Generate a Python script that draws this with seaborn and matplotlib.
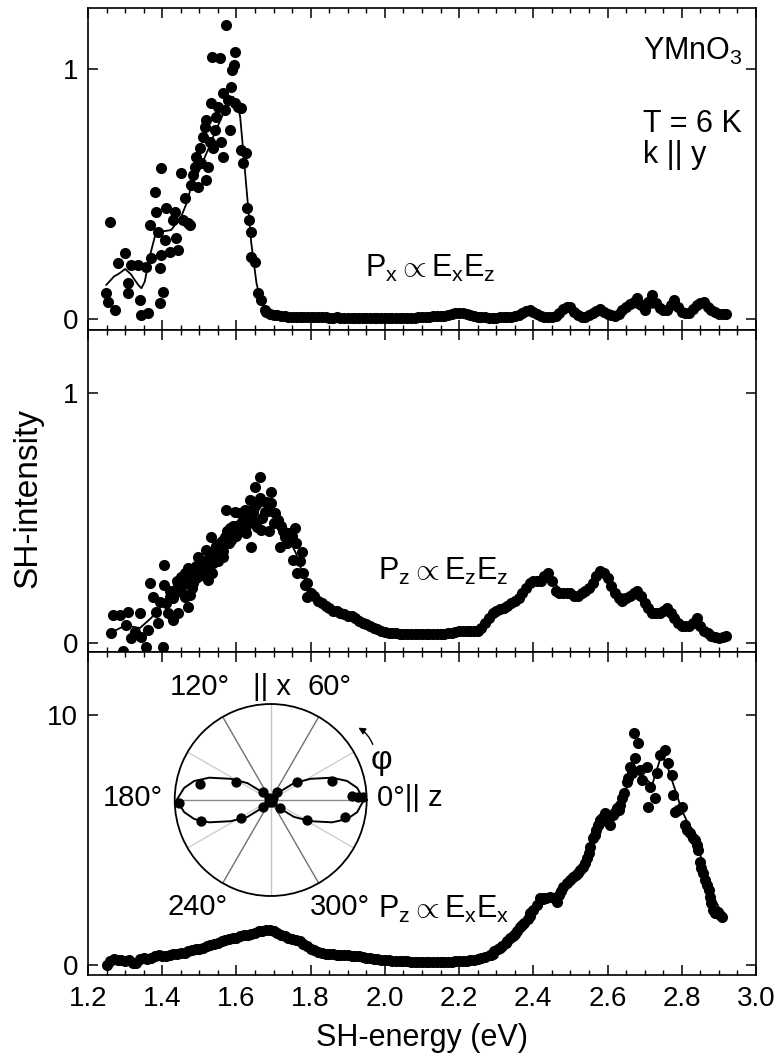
import numpy as np
import matplotlib
matplotlib.use("Agg")
import matplotlib.pyplot as plt
import seaborn as sns
from matplotlib.ticker import MultipleLocator, FixedLocator

# ---------------- data ----------------
# top panel: P_x ~ E_x E_z
top_e = [1.249, 1.254, 1.258, 1.272, 1.281, 1.299, 1.308, 1.308, 1.317, 1.335,
         1.339, 1.344, 1.357, 1.362, 1.366, 1.371, 1.380, 1.384, 1.389, 1.393,
         1.393, 1.398, 1.398, 1.402, 1.407, 1.411, 1.420, 1.429, 1.434, 1.438,
         1.443, 1.451, 1.456, 1.461, 1.469, 1.474, 1.478, 1.483, 1.487, 1.492,
         1.496, 1.501, 1.505, 1.510, 1.514, 1.519, 1.519, 1.523, 1.528, 1.532,
         1.534, 1.537, 1.541, 1.546, 1.550, 1.555, 1.559, 1.564, 1.564, 1.568,
         1.573, 1.577, 1.582, 1.586, 1.588, 1.593, 1.595, 1.595, 1.604, 1.613,
         1.613, 1.618, 1.627, 1.629, 1.633, 1.638, 1.640, 1.649, 1.658, 1.667,
         1.676]
top_i = [0.105, 0.069, 0.389, 0.036, 0.223, 0.263, 0.143, 0.103, 0.216, 0.216,
         0.076, 0.016, 0.209, 0.023, 0.376, 0.243, 0.509, 0.429, 0.349, 0.203,
         0.063, 0.603, 0.256, 0.109, 0.316, 0.443, 0.269, 0.396, 0.429, 0.323,
         0.276, 0.583, 0.396, 0.483, 0.383, 0.376, 0.536, 0.576, 0.609, 0.649,
         0.529, 0.683, 0.623, 0.729, 0.769, 0.796, 0.556, 0.609, 0.709, 0.863,
         1.049, 0.683, 0.756, 0.809, 0.849, 1.043, 0.709, 0.649, 0.903, 0.836,
         1.176, 0.876, 0.756, 0.929, 0.996, 1.016, 1.069, 0.863, 0.849, 0.843,
         0.676, 0.623, 0.663, 0.443, 0.396, 0.349, 0.249, 0.229, 0.103, 0.076,
         0.036]
top_tail_e = [1.68, 1.69, 1.70, 1.71, 1.72, 1.73, 1.74, 1.75, 1.76, 1.77,
              1.78, 1.79, 1.80, 1.81, 1.82, 1.83, 1.84, 1.85, 1.86, 1.87,
              1.88, 1.89, 1.90, 1.91, 1.92, 1.93, 1.94, 1.95, 1.96, 1.97,
              1.98, 1.99, 2.00, 2.01, 2.02, 2.03, 2.04, 2.05, 2.06, 2.07,
              2.08, 2.09, 2.10, 2.11, 2.12, 2.13, 2.14, 2.15, 2.16, 2.17,
              2.18, 2.19, 2.20, 2.21, 2.22, 2.23, 2.24, 2.25, 2.26, 2.27,
              2.28, 2.29, 2.30, 2.31, 2.32, 2.33, 2.34, 2.35, 2.36, 2.37,
              2.38, 2.39, 2.40, 2.41, 2.42, 2.43, 2.44, 2.45, 2.46, 2.47,
              2.48, 2.49, 2.50, 2.51, 2.52, 2.53, 2.54, 2.55, 2.56, 2.57,
              2.58, 2.59, 2.60, 2.61, 2.62, 2.63, 2.64, 2.65, 2.66, 2.67,
              2.68, 2.69, 2.70, 2.71, 2.72, 2.73, 2.74, 2.75, 2.76, 2.77,
              2.78, 2.79, 2.80, 2.81, 2.82, 2.83, 2.84, 2.85, 2.86, 2.87,
              2.88, 2.89, 2.90, 2.91, 2.92]
top_tail_i = [.030, .022, .018, .015, .012, .011, .010, .009, .008, .010,
              .009, .008, .008, .007, .007, .009, .008, .006, .006, .007,
              .006, .005, .005, .006, .005, .004, .004, .005, .004, .003,
              .004, .004, .004, .003, .004, .004, .005, .005, .005, .006,
              .006, .007, .008, .009, .010, .011, .012, .013, .014, .017,
              .020, .024, .026, .024, .020, .016, .012, .010, .008, .007,
              .006, .006, .006, .007, .008, .009, .010, .012, .016, .024,
              .032, .036, .030, .020, .014, .010, .008, .010, .014, .025,
              .040, .048, .050, .030, .016, .010, .010, .016, .024, .034,
              .040, .030, .022, .015, .012, .020, .035, .048, .060, .070,
              .085, .055, .035, .070, .095, .065, .045, .035, .035, .055,
              .075, .050, .030, .025, .025, .040, .055, .065, .070, .050,
              .035, .028, .022, .020, .020]
top_fit_e = [1.249, 1.270, 1.285, 1.300, 1.315, 1.326, 1.336, 1.344, 1.353, 1.366,
             1.380, 1.400, 1.424, 1.451, 1.469, 1.478, 1.496, 1.523, 1.541, 1.559,
             1.577, 1.591, 1.602, 1.610, 1.618, 1.629, 1.640, 1.654, 1.667, 1.685,
             1.72, 1.80, 1.90, 2.00, 2.10, 2.20, 2.26, 2.34, 2.40, 2.46,
             2.50, 2.54, 2.58, 2.62, 2.66, 2.70, 2.74, 2.78, 2.82, 2.86, 2.92]
top_fit_i = [0.136, 0.17, 0.183, 0.2, 0.18, 0.156, 0.135, 0.123, 0.15, 0.249,
             0.329, 0.35, 0.356, 0.409, 0.476, 0.536, 0.583, 0.676, 0.743, 0.803,
             0.863, 0.889, 0.86, 0.809, 0.676, 0.489, 0.303, 0.143, 0.063, 0.023,
             0.012, 0.008, 0.005, 0.004, 0.008, 0.022, 0.008, 0.01, 0.028, 0.012,
             0.04, 0.01, 0.035, 0.012, 0.05, 0.04, 0.05, 0.05, 0.025, 0.06, 0.02]

# middle panel: P_z ~ E_z E_z
mid_e = [1.263, 1.267, 1.285, 1.294, 1.303, 1.308, 1.317, 1.326, 1.339, 1.344,
         1.357, 1.362, 1.366, 1.375, 1.384, 1.389, 1.393, 1.402, 1.405, 1.405,
         1.416, 1.420, 1.429, 1.434, 1.443, 1.451, 1.461, 1.469, 1.474, 1.483,
         1.492, 1.496, 1.505, 1.514, 1.519, 1.523, 1.532, 1.537, 1.546, 1.555,
         1.564, 1.568, 1.573, 1.582, 1.586, 1.595, 1.604, 1.613, 1.622, 1.627,
         1.636, 1.640, 1.645, 1.649, 1.654, 1.663, 1.663, 1.667, 1.676, 1.680,
         1.689, 1.694, 1.694, 1.712, 1.717, 1.720, 1.730,
         1.44, 1.46, 1.48, 1.50, 1.51, 1.53, 1.54, 1.56, 1.57, 1.59,
         1.60, 1.62, 1.65, 1.47, 1.49, 1.744, 1.753, 1.758, 1.762, 1.776,
         1.785, 1.789]
mid_i = [0.039, 0.112, 0.112, -0.03, 0.072, 0.125, 0.019, 0.045, 0.119, 0.025,
         -0.015, 0.052, 0.239, 0.185, 0.125, 0.079, 0.165, -0.015, 0.232, 0.312,
         0.119, 0.185, 0.092, 0.199, 0.119, 0.265, 0.185, 0.145, 0.192, 0.239,
         0.299, 0.345, 0.279, 0.319, 0.372, 0.252, 0.425, 0.319, 0.359, 0.399,
         0.345, 0.425, 0.532, 0.459, 0.412, 0.525, 0.452, 0.479, 0.532, 0.439,
         0.572, 0.385, 0.525, 0.625, 0.465, 0.665, 0.579, 0.452, 0.525, 0.565,
         0.45, 0.605, 0.559, 0.492, 0.385, 0.47, 0.425,
         0.22, 0.24, 0.27, 0.30, 0.33, 0.34, 0.37, 0.38, 0.42, 0.44,
         0.47, 0.50, 0.55, 0.30, 0.26, 0.425, 0.332, 0.459, 0.279, 0.365,
         0.232, 0.185]
mid_band_e = [1.41, 1.42, 1.43, 1.44, 1.45, 1.46, 1.47, 1.48, 1.49, 1.50,
              1.51, 1.52, 1.525, 1.53, 1.535, 1.54, 1.545, 1.55, 1.56, 1.565,
              1.575, 1.58, 1.59, 1.60, 1.61, 1.625, 1.63, 1.645, 1.655, 1.67,
              1.685, 1.70, 1.705, 1.725, 1.735]
mid_band_i = [0.16, 0.21, 0.18, 0.25, 0.21, 0.28, 0.24, 0.22, 0.31, 0.27,
              0.29, 0.33, 0.30, 0.36, 0.28, 0.34, 0.39, 0.33, 0.41, 0.37,
              0.45, 0.40, 0.47, 0.43, 0.52, 0.47, 0.53, 0.49, 0.56, 0.50,
              0.53, 0.48, 0.52, 0.45, 0.40]
mid_tail_e = [1.74, 1.75, 1.76, 1.77, 1.78, 1.79, 1.80, 1.81, 1.82, 1.83,
              1.84, 1.85, 1.86, 1.87, 1.88, 1.89, 1.90, 1.91, 1.92, 1.93,
              1.94, 1.95, 1.96, 1.97, 1.98, 1.99, 2.00, 2.01, 2.02, 2.03,
              2.04, 2.05, 2.06, 2.07, 2.08, 2.09, 2.10, 2.11, 2.12, 2.13,
              2.14, 2.15, 2.16, 2.17, 2.18, 2.19, 2.20, 2.21, 2.22, 2.23,
              2.24, 2.25, 2.26, 2.27, 2.28, 2.29, 2.30, 2.31, 2.32, 2.33,
              2.34, 2.35, 2.36, 2.37, 2.38, 2.39, 2.40, 2.41, 2.42, 2.43,
              2.44, 2.45, 2.46, 2.47, 2.48, 2.49, 2.50, 2.51, 2.52, 2.53,
              2.54, 2.55, 2.56, 2.57, 2.58, 2.59, 2.60, 2.61, 2.62, 2.63,
              2.64, 2.65, 2.66, 2.67, 2.68, 2.69, 2.70, 2.71, 2.72, 2.73,
              2.74, 2.75, 2.76, 2.77, 2.78, 2.79, 2.80, 2.81, 2.82, 2.83,
              2.84, 2.85, 2.86, 2.87, 2.88, 2.89, 2.90, 2.91, 2.92]
mid_tail_i = [.44, .43, .40, .33, .28, .24, .20, .19, .17, .16,
              .15, .14, .13, .13, .12, .115, .11, .11, .10, .09,
              .08, .075, .07, .06, .055, .05, .045, .042, .04, .04,
              .038, .037, .036, .036, .036, .035, .036, .036, .036, .036,
              .036, .037, .038, .040, .042, .045, .048, .050, .048, .048,
              .048, .050, .060, .080, .10, .12, .13, .135, .14, .15,
              .16, .17, .18, .20, .22, .24, .25, .25, .25, .27,
              .28, .25, .21, .20, .20, .20, .20, .19, .19, .20,
              .21, .22, .24, .27, .29, .28, .26, .23, .20, .18,
              .17, .18, .19, .20, .21, .19, .16, .14, .12, .12,
              .12, .13, .14, .12, .10, .08, .07, .07, .07, .08,
              .10, .07, .05, .04, .03, .025, .02, .025, .03]
mid_fit_e = [1.26, 1.30, 1.34, 1.37, 1.40, 1.45, 1.50, 1.55, 1.60, 1.65,
             1.68, 1.70, 1.73, 1.76, 1.78, 1.80, 1.85, 1.90, 1.95, 2.00,
             2.10, 2.20, 2.26, 2.30, 2.36, 2.40, 2.44, 2.48, 2.52, 2.56,
             2.58, 2.62, 2.66, 2.70, 2.74, 2.78, 2.82, 2.86, 2.92]
mid_fit_i = [0.04, 0.07, 0.06, 0.1, 0.15, 0.2, 0.29, 0.37, 0.45, 0.53,
             0.56, 0.53, 0.45, 0.36, 0.27, 0.2, 0.14, 0.11, 0.075, 0.045,
             0.036, 0.046, 0.06, 0.13, 0.18, 0.25, 0.27, 0.2, 0.19, 0.24,
             0.28, 0.2, 0.19, 0.16, 0.12, 0.1, 0.07, 0.05, 0.03]

# bottom panel: P_z ~ E_x E_x
bot_e = [1.25, 1.26, 1.27, 1.28, 1.29, 1.30, 1.31, 1.32, 1.33, 1.34,
         1.35, 1.36, 1.37, 1.38, 1.39, 1.40, 1.41, 1.42, 1.43, 1.44,
         1.45, 1.46, 1.47, 1.48, 1.49, 1.50, 1.51, 1.52, 1.53, 1.54,
         1.55, 1.56, 1.57, 1.58, 1.59, 1.60, 1.61, 1.62, 1.63, 1.64,
         1.65, 1.66, 1.67, 1.68, 1.69, 1.70, 1.71, 1.72, 1.73, 1.74,
         1.75, 1.76, 1.77, 1.78, 1.79, 1.80, 1.81, 1.82, 1.83, 1.84,
         1.85, 1.86, 1.87, 1.88, 1.89, 1.90, 1.91, 1.92, 1.93, 1.94,
         1.95, 1.96, 1.97, 1.98, 1.99, 2.00, 2.01, 2.02, 2.03, 2.04,
         2.05, 2.06, 2.07, 2.08, 2.09, 2.10, 2.11, 2.12, 2.13, 2.14,
         2.15, 2.16, 2.17, 2.18, 2.19, 2.20, 2.21, 2.22, 2.23, 2.24,
         2.25, 2.26, 2.27]
bot_i = [0.0, 0.15, 0.25, 0.2, 0.2, 0.15, 0.2, 0.1, 0.1, 0.25,
         0.3, 0.25, 0.3, 0.35, 0.4, 0.35, 0.35, 0.4, 0.45, 0.45,
         0.5, 0.5, 0.55, 0.6, 0.65, 0.65, 0.7, 0.75, 0.8, 0.85,
         0.9, 0.95, 1.0, 1.05, 1.1, 1.1, 1.15, 1.2, 1.2, 1.25,
         1.3, 1.35, 1.38, 1.42, 1.42, 1.35, 1.3, 1.2, 1.15, 1.1,
         1.05, 1.0, 0.95, 0.85, 0.75, 0.65, 0.6, 0.52, 0.48, 0.46,
         0.45, 0.44, 0.42, 0.41, 0.4, 0.39, 0.38, 0.36, 0.35, 0.33,
         0.3, 0.28, 0.25, 0.24, 0.22, 0.21, 0.2, 0.18, 0.17, 0.16,
         0.15, 0.15, 0.14, 0.14, 0.13, 0.13, 0.12, 0.12, 0.12, 0.12,
         0.12, 0.12, 0.13, 0.14, 0.15, 0.16, 0.17, 0.18, 0.2, 0.22,
         0.25, 0.28, 0.32]
bot_peak_e = [2.283, 2.29, 2.31, 2.33, 2.337, 2.35, 2.364, 2.37, 2.39, 2.391,
              2.41, 2.418, 2.43, 2.445, 2.463, 2.47, 2.481, 2.49, 2.508, 2.52,
              2.535, 2.545, 2.553, 2.562, 2.57, 2.580, 2.593, 2.607, 2.620, 2.634,
              2.643, 2.652, 2.661, 2.670, 2.674, 2.683, 2.688, 2.692, 2.705, 2.710,
              2.714, 2.728, 2.732, 2.741, 2.755, 2.763, 2.773, 2.777, 2.782, 2.800,
              2.809, 2.822, 2.836, 2.845, 2.849, 2.858, 2.867, 2.876, 2.885, 2.898,
              2.908]
bot_peak_i = [0.4, 0.45, 0.7, 0.95, 1.07, 1.25, 1.53, 1.6, 1.95, 2.07,
              2.4, 2.67, 2.7, 2.73, 2.53, 2.8, 3.13, 3.3, 3.53, 3.7,
              3.93, 4.3, 4.73, 5.07, 5.4, 5.8, 6.07, 5.6, 6.13, 6.4,
              6.87, 7.33, 7.93, 9.27, 8.27, 8.87, 7.8, 7.4, 7.93, 6.33,
              7.13, 6.67, 7.67, 8.4, 8.6, 8.07, 7.6, 6.8, 6.13, 6.33,
              5.6, 5.27, 5.0, 4.6, 4.13, 3.67, 3.2, 2.73, 2.2, 2.13,
              1.93]
bot_rise_e = [2.285, 2.295, 2.305, 2.315, 2.325, 2.345, 2.355, 2.375, 2.385, 2.40,
              2.425, 2.435, 2.455, 2.475, 2.50, 2.515, 2.525, 2.54, 2.55, 2.565,
              2.575, 2.585, 2.60, 2.615, 2.625, 2.63, 2.64, 2.655, 2.665, 2.79,
              2.815, 2.83, 2.84, 2.853, 2.862, 2.872, 2.88, 2.89, 2.903]
bot_rise_i = [0.42, 0.55, 0.65, 0.78, 0.9, 1.15, 1.35, 1.7, 1.85, 2.2,
              2.65, 2.7, 2.7, 2.95, 3.4, 3.6, 3.8, 4.1, 4.5, 5.2,
              5.6, 5.9, 5.9, 6.0, 6.3, 6.2, 6.7, 7.5, 7.7, 6.2,
              5.4, 5.1, 4.8, 3.9, 3.4, 3.0, 2.5, 2.1, 2.0]
bot_fit_e = [1.25, 1.35, 1.45, 1.55, 1.65, 1.69, 1.75, 1.82, 1.90, 2.00,
             2.10, 2.20, 2.27, 2.33, 2.40, 2.45, 2.50, 2.55, 2.60, 2.64,
             2.67, 2.70, 2.72, 2.745, 2.76, 2.80, 2.84, 2.88, 2.91]
bot_fit_i = [0.05, 0.25, 0.5, 0.9, 1.28, 1.38, 1.05, 0.5, 0.37, 0.2,
             0.12, 0.15, 0.32, 0.95, 2.3, 2.75, 3.3, 4.6, 5.8, 6.6,
             7.9, 7.5, 7.2, 8.4, 8.0, 6.2, 4.9, 2.9, 2.0]

# polar inset (angle in degrees, normalised intensity)
pol_deg = [2, 2, 3, 17, 34, 54, 131, 152, 167, 182,
           197, 212, 222, 318, 331, 347, 45, 120, 230, 300]
pol_r = [0.96, 0.91, 0.85, 0.667, 0.327, 0.107, 0.116, 0.404, 0.76, 0.957,
         0.755, 0.36, 0.104, 0.131, 0.437, 0.798, 0.03, 0.03, 0.03, 0.02]
pol_fit_deg = [0, 8, 14, 20, 28, 36, 42, 50, 60, 90,
               120, 130, 138, 144, 152, 160, 166, 172, 180,
               188, 194, 200, 208, 216, 222, 230, 240, 270,
               300, 310, 318, 324, 332, 340, 346, 352, 360]
pol_fit_r = [0.97, 0.91, 0.82, 0.68, 0.47, 0.30, 0.13, 0.05, 0.02, 0.0,
             0.02, 0.05, 0.13, 0.30, 0.47, 0.68, 0.82, 0.91, 0.98,
             0.91, 0.82, 0.68, 0.47, 0.30, 0.13, 0.05, 0.02, 0.0,
             0.02, 0.05, 0.13, 0.30, 0.47, 0.68, 0.82, 0.91, 0.97]
grid_deg = [0, 30, 60, 90, 120, 150, 180, 210, 240, 270, 300, 330]
grid_col = ['#8a8a8a', '#cfcfcf', '#707070', '#c4c4c4', '#707070', '#cfcfcf',
            '#8a8a8a', '#cfcfcf', '#707070', '#c4c4c4', '#707070', '#cfcfcf']

# ---------------- style ----------------
sns.set_style("ticks", rc={"axes.edgecolor": "black", "xtick.color": "black",
                           "ytick.color": "black", "text.color": "black",
                           "axes.labelcolor": "black",
                           "xtick.direction": "in", "ytick.direction": "in"})
plt.rcParams['font.family'] = ['Liberation Sans', 'DejaVu Sans']
plt.rcParams['mathtext.fontset'] = 'custom'
plt.rcParams['mathtext.rm'] = 'Liberation Sans'
plt.rcParams['mathtext.it'] = 'Liberation Sans:italic'
plt.rcParams['mathtext.sf'] = 'Liberation Sans'

FS = 22
MS = 64

fig = plt.figure(figsize=(7.81, 10.58), dpi=100)
left, width = 0.1127, 0.8553
ax1 = fig.add_axes([left, 0.68809, width, 0.30435])
ax2 = fig.add_axes([left, 0.38374, width, 0.30435])
ax3 = fig.add_axes([left, 0.07845, width, 0.30529])


def draw(ax, xs, ys, fx, fy):
    for x, y in zip(xs, ys):
        sns.scatterplot(x=x, y=y, ax=ax, color='black', s=MS, linewidth=0,
                        zorder=3, legend=False)
    sns.lineplot(x=fx, y=fy, ax=ax, color='black', lw=1.3, estimator=None,
                 sort=False, zorder=2)


draw(ax1, [top_e, top_tail_e], [top_i, top_tail_i], top_fit_e, top_fit_i)
draw(ax2, [mid_e, mid_band_e, mid_tail_e], [mid_i, mid_band_i, mid_tail_i],
     mid_fit_e, mid_fit_i)
draw(ax3, [bot_e, bot_peak_e, bot_rise_e], [bot_i, bot_peak_i, bot_rise_i],
     bot_fit_e, bot_fit_i)

ax1.set_ylim(-0.044, 1.244)
ax2.set_ylim(-0.036, 1.252)
ax3.set_ylim(-0.4, 12.52)
ax1.yaxis.set_major_locator(FixedLocator([0, 1]))
ax2.yaxis.set_major_locator(FixedLocator([0, 1]))
ax3.yaxis.set_major_locator(FixedLocator([0, 10]))

for ax in (ax1, ax2, ax3):
    ax.set_xlim(1.2, 3.0)
    ax.xaxis.set_major_locator(MultipleLocator(0.2))
    ax.xaxis.set_minor_locator(MultipleLocator(0.05))
    ax.tick_params(which='major', direction='in', length=7, width=1.1,
                   top=True, right=True, labelsize=20, pad=7)
    ax.tick_params(which='minor', direction='in', length=3.5, width=1.0,
                   top=True, right=False, left=False)
    ax.tick_params(axis='x', which='major', pad=8)
    for sp in ax.spines.values():
        sp.set_linewidth(1.2)
    ax.set_xlabel('')
    ax.set_ylabel('')

ax1.tick_params(labelbottom=False)
ax2.tick_params(labelbottom=False)
ax3.set_xticks([1.2, 1.4, 1.6, 1.8, 2.0, 2.2, 2.4, 2.6, 2.8, 3.0])
ax3.set_xticklabels(['1.2', '1.4', '1.6', '1.8', '2.0', '2.2', '2.4', '2.6', '2.8', '3.0'])
ax3.set_xlabel('SH-energy (eV)', fontsize=FS, labelpad=8)
fig.text(0.036, 0.529, 'SH-intensity', rotation=90, fontsize=24,
         ha='center', va='center')

# annotations
ax1.text(2.696, 1.036, r'YMnO$_{\rm 3}$', fontsize=FS)
ax1.text(2.696, 0.748, 'T = 6 K', fontsize=FS)
ax1.text(2.696, 0.625, 'k || y', fontsize=FS)
ax1.text(1.946, 0.168, r'P$_{\rm x}$$\propto$E$_{\rm x}$E$_{\rm z}$', fontsize=FS)
ax2.text(1.981, 0.252, r'P$_{\rm z}$$\propto$E$_{\rm z}$E$_{\rm z}$', fontsize=FS)
ax3.text(1.981, 1.88, r'P$_{\rm z}$$\propto$E$_{\rm x}$E$_{\rm x}$', fontsize=FS)

# polar angle labels around the inset
PFS = 21
ax3.text(1.502, 11.12, '120°', fontsize=PFS, ha='center', va='center')
ax3.text(1.696, 11.12, '|| x', fontsize=PFS, ha='center', va='center')
ax3.text(1.852, 11.12, '60°', fontsize=PFS, ha='center', va='center')
ax3.text(1.321, 6.68, '180°', fontsize=PFS, ha='center', va='center')
ax3.text(1.978, 6.68, '0°|| z', fontsize=PFS, ha='left', va='center')
ax3.text(1.496, 2.33, '240°', fontsize=PFS, ha='center', va='center')
ax3.text(1.879, 2.33, '300°', fontsize=PFS, ha='center', va='center')
ax3.text(1.992, 8.2, 'φ', fontsize=24, ha='center', va='center')
ax3.annotate('', xy=(1.922, 9.55), xytext=(1.970, 8.72),
             arrowprops=dict(arrowstyle='-|>', color='black', lw=1.0,
                             mutation_scale=10,
                             connectionstyle='arc3,rad=0.2'))

# polar inset
axp = fig.add_axes([0.2237, 0.1531, 0.2458, 0.1815], projection='polar')
axp.set_xticks(np.deg2rad(grid_deg))
axp.set_xticklabels([])
axp.set_yticks([])
axp.grid(False)
for d, c in zip(grid_deg, grid_col):
    axp.plot([np.deg2rad(d), np.deg2rad(d)], [0, 1.0], color=c, lw=1.0, zorder=1)
axp.tick_params(axis='x', direction='in', length=5, width=1.1, colors='black', pad=0)
axp.spines['polar'].set_linewidth(1.3)
sns.lineplot(x=np.deg2rad(pol_fit_deg), y=pol_fit_r, ax=axp, color='black',
             lw=1.4, estimator=None, sort=False, zorder=2)
sns.scatterplot(x=np.deg2rad(pol_deg), y=pol_r, ax=axp, color='black', s=55,
                linewidth=0, zorder=3, legend=False)
axp.set_xlabel('')
axp.set_ylabel('')
axp.set_ylim(0, 1.0)

fig.savefig('out.png', dpi=100)
